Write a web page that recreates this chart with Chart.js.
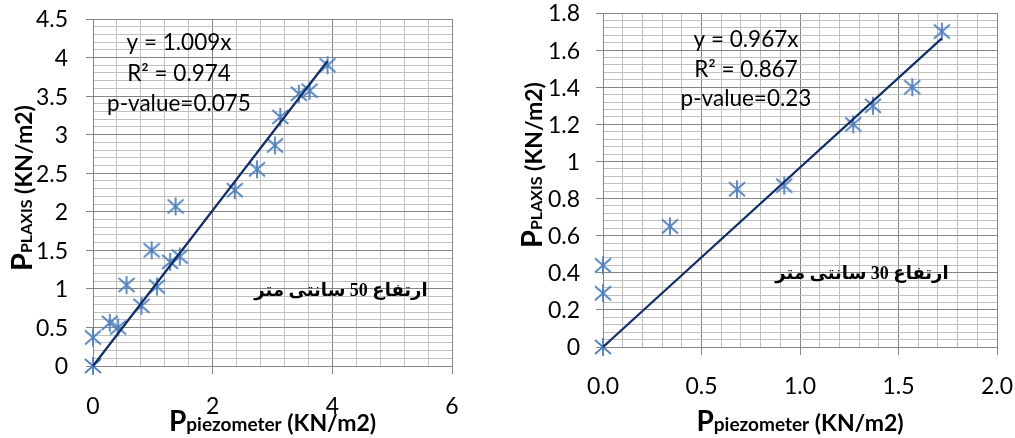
<!DOCTYPE html>
<html><head><meta charset="utf-8">
<script src="https://cdn.jsdelivr.net/npm/chart.js@4/dist/chart.umd.min.js"></script>
<style>
html,body{margin:0;padding:0;background:#fff;width:1015px;height:438px;overflow:hidden}
#c1{position:absolute;left:0;top:0}
#c2{position:absolute;left:500px;top:0}
</style></head><body>
<canvas id="c1" width="500" height="438"></canvas>
<canvas id="c2" width="515" height="438"></canvas>
<script>
// ---- data: left chart (50 cm) ----
const leftPiezo  = [0, 0, 0.28, 0.42, 0.56, 0.81, 0.98, 1.07, 1.29, 1.45, 1.38, 2.37, 2.74, 3.04, 3.13, 3.44, 3.62, 3.92];
const leftPlaxis = [0, 0.37, 0.56, 0.50, 1.05, 0.78, 1.50, 1.03, 1.35, 1.42, 2.07, 2.28, 2.55, 2.86, 3.23, 3.53, 3.57, 3.90];
const leftSlope = 1.009;
const leftTrendX = [0, 3.92];
const leftXTicks = [0, 2, 4, 6];
const leftXLabels = ['0', '2', '4', '6'];
const leftYTicks = [0, 0.5, 1, 1.5, 2, 2.5, 3, 3.5, 4, 4.5];
const leftYLabels = ['0', '0.5', '1', '1.5', '2', '2.5', '3', '3.5', '4', '4.5'];
const leftNote = ['y = 1.009x', 'R\u00B2 = 0.974', 'p-value=0.075'];
const leftCaption = 'ارتفاع 50 سانتی متر';

// ---- data: right chart (30 cm) ----
const rightPiezo  = [0, 0, 0, 0.34, 0.68, 0.92, 1.27, 1.37, 1.57, 1.72];
const rightPlaxis = [0, 0.29, 0.44, 0.65, 0.85, 0.87, 1.20, 1.30, 1.40, 1.70];
const rightSlope = 0.967;
const rightTrendX = [0, 1.72];
const rightXTicks = [0, 0.5, 1, 1.5, 2];
const rightXLabels = ['0.0', '0.5', '1.0', '1.5', '2.0'];
const rightYTicks = [0, 0.2, 0.4, 0.6, 0.8, 1, 1.2, 1.4, 1.6, 1.8];
const rightYLabels = ['0', '0.2', '0.4', '0.6', '0.8', '1', '1.2', '1.4', '1.6', '1.8'];
const rightNote = ['y = 0.967x', 'R\u00B2 = 0.867', 'p-value=0.23'];
const rightCaption = 'ارتفاع 30 سانتی متر';

const MAJ = '#868686', MIN = '#C0C0C0';
const MARK = '#4F81BD', TREND = '#112C66';
const FONT = 'Lato, "Open Sans", sans-serif';

function starImage() {
  const c = document.createElement('canvas');
  c.width = 20; c.height = 20;
  const g = c.getContext('2d');
  g.strokeStyle = MARK; g.lineWidth = 1.8; g.lineCap = 'butt';
  g.beginPath();
  g.moveTo(2, 3); g.lineTo(18, 17);
  g.moveTo(18, 3); g.lineTo(2, 17);
  g.moveTo(10, 1); g.lineTo(10, 19);
  g.stroke();
  return c;
}
const STAR = starImage();

function isMult(v, step) { const q = v / step; return Math.abs(q - Math.round(q)) < 1e-6; }

function drawParts(ctx, parts, x, y, rotate) {
  ctx.save();
  ctx.translate(x, y);
  if (rotate) ctx.rotate(-Math.PI / 2);
  ctx.textBaseline = 'alphabetic'; ctx.textAlign = 'left'; ctx.fillStyle = '#000';
  let w = 0;
  parts.forEach(p => { ctx.font = p.f; w += ctx.measureText(p.t).width; });
  let cx = rotate ? 0 : -w / 2;
  parts.forEach(p => { ctx.font = p.f; ctx.fillText(p.t, cx, 0); cx += ctx.measureText(p.t).width; });
  ctx.restore();
}

function makeChart(id, o) {
  const pts = o.px.map((x, i) => ({x: x, y: o.py[i]}));
  const trend = o.trendX.map(x => ({x: x, y: o.slope * x}));
  const textPlugin = {
    id: 'texts',
    afterDraw(chart) {
      const ctx = chart.ctx, xs = chart.scales.x, ys = chart.scales.y, a = chart.chartArea;
      ctx.save();
      ctx.fillStyle = '#000';
      ctx.font = '23px ' + FONT;
      ctx.textAlign = 'right'; ctx.textBaseline = 'middle';
      o.yTicks.forEach((v, i) => ctx.fillText(o.yLabels[i], a.left - o.yLabGap, ys.getPixelForValue(v) + 1));
      ctx.textAlign = 'center';
      o.xTicks.forEach((v, i) => ctx.fillText(o.xLabels[i], xs.getPixelForValue(v), a.bottom + o.xLabGap));
      // annotations
      ctx.font = '22.5px ' + FONT;
      ctx.textBaseline = 'alphabetic';
      o.note.forEach((t, i) => ctx.fillText(t, o.noteX, o.noteY[i]));
      // caption (Persian)
      ctx.font = 'bold 18px "Liberation Serif", "DejaVu Sans", serif';
      ctx.direction = 'rtl';
      ctx.textAlign = 'center';
      ctx.fillText(o.caption, o.capX, o.capY);
      ctx.restore();
      // axis titles
      drawParts(ctx, [
        {t: 'P', f: 'bold 28px ' + FONT},
        {t: 'piezometer', f: 'bold 19px ' + FONT},
        {t: ' (KN/m2)', f: 'bold 23px ' + FONT}
      ], (a.left + a.right) / 2, 431, false);
      drawParts(ctx, [
        {t: 'P', f: 'bold 29px ' + FONT},
        {t: 'PLAXIS', f: 'bold 16px ' + FONT},
        {t: ' (KN/m2)', f: 'bold 23px ' + FONT}
      ], o.yTitleX, o.yTitleY, true);
    }
  };
  return new Chart(document.getElementById(id), {
    type: 'scatter',
    data: {datasets: [
      {type: 'line', data: trend, borderColor: TREND, borderWidth: 2.2, pointRadius: 0, fill: false, clip: false},
      {data: pts, pointStyle: STAR, pointRadius: 9, showLine: false, clip: false,
       backgroundColor: MARK, borderColor: MARK}
    ]},
    options: {
      responsive: false, animation: false, devicePixelRatio: 1,
      layout: {autoPadding: false, padding: o.pad},
      plugins: {legend: {display: false}, tooltip: {enabled: false}},
      scales: {
        x: {type: 'linear', min: o.xMin, max: o.xMax,
          ticks: {display: false, stepSize: o.xMinor},
          grid: {color: c => isMult(c.tick.value, o.xMajor) ? MAJ : MIN,
                 tickColor: c => isMult(c.tick.value, o.xMajor) ? MAJ : 'rgba(0,0,0,0)',
                 tickLength: 8, lineWidth: 1},
          border: {color: MAJ, width: 1},
          afterFit: s => { s.height = 0; }},
        y: {type: 'linear', min: o.yMin, max: o.yMax,
          ticks: {display: false, stepSize: o.yMinor},
          grid: {color: c => isMult(c.tick.value, o.yMajor) ? MAJ : MIN,
                 tickColor: c => isMult(c.tick.value, o.yMajor) ? MAJ : 'rgba(0,0,0,0)',
                 tickLength: 7, lineWidth: 1},
          border: {color: MAJ, width: 1},
          afterFit: s => { s.width = 0; }}
      }
    },
    plugins: [textPlugin]
  });
}

makeChart('c1', {
  px: leftPiezo, py: leftPlaxis, slope: leftSlope, trendX: leftTrendX,
  xTicks: leftXTicks, xLabels: leftXLabels, yTicks: leftYTicks, yLabels: leftYLabels,
  note: leftNote, caption: leftCaption,
  xMin: 0, xMax: 6, xMajor: 2, xMinor: 0.4,
  yMin: 0, yMax: 4.5, yMajor: 0.5, yMinor: 0.1,
  pad: {left: 93, right: 48, top: 19, bottom: 72},
  yLabGap: 25, xLabGap: 41,
  noteX: 179, noteY: [50, 81, 111],
  capX: 341, capY: 296,
  yTitleX: 32, yTitleY: 271
});

makeChart('c2', {
  px: rightPiezo, py: rightPlaxis, slope: rightSlope, trendX: rightTrendX,
  xTicks: rightXTicks, xLabels: rightXLabels, yTicks: rightYTicks, yLabels: rightYLabels,
  note: rightNote, caption: rightCaption,
  xMin: 0, xMax: 2, xMajor: 0.5, xMinor: 0.1,
  yMin: 0, yMax: 1.8, yMajor: 0.2, yMinor: 0.04,
  pad: {left: 103, right: 18, top: 13, bottom: 91},
  yLabGap: 23, xLabGap: 40,
  noteX: 246, noteY: [47, 77, 106],
  capX: 362, capY: 279,
  yTitleX: 42, yTitleY: 248
});
</script>
</body></html>
